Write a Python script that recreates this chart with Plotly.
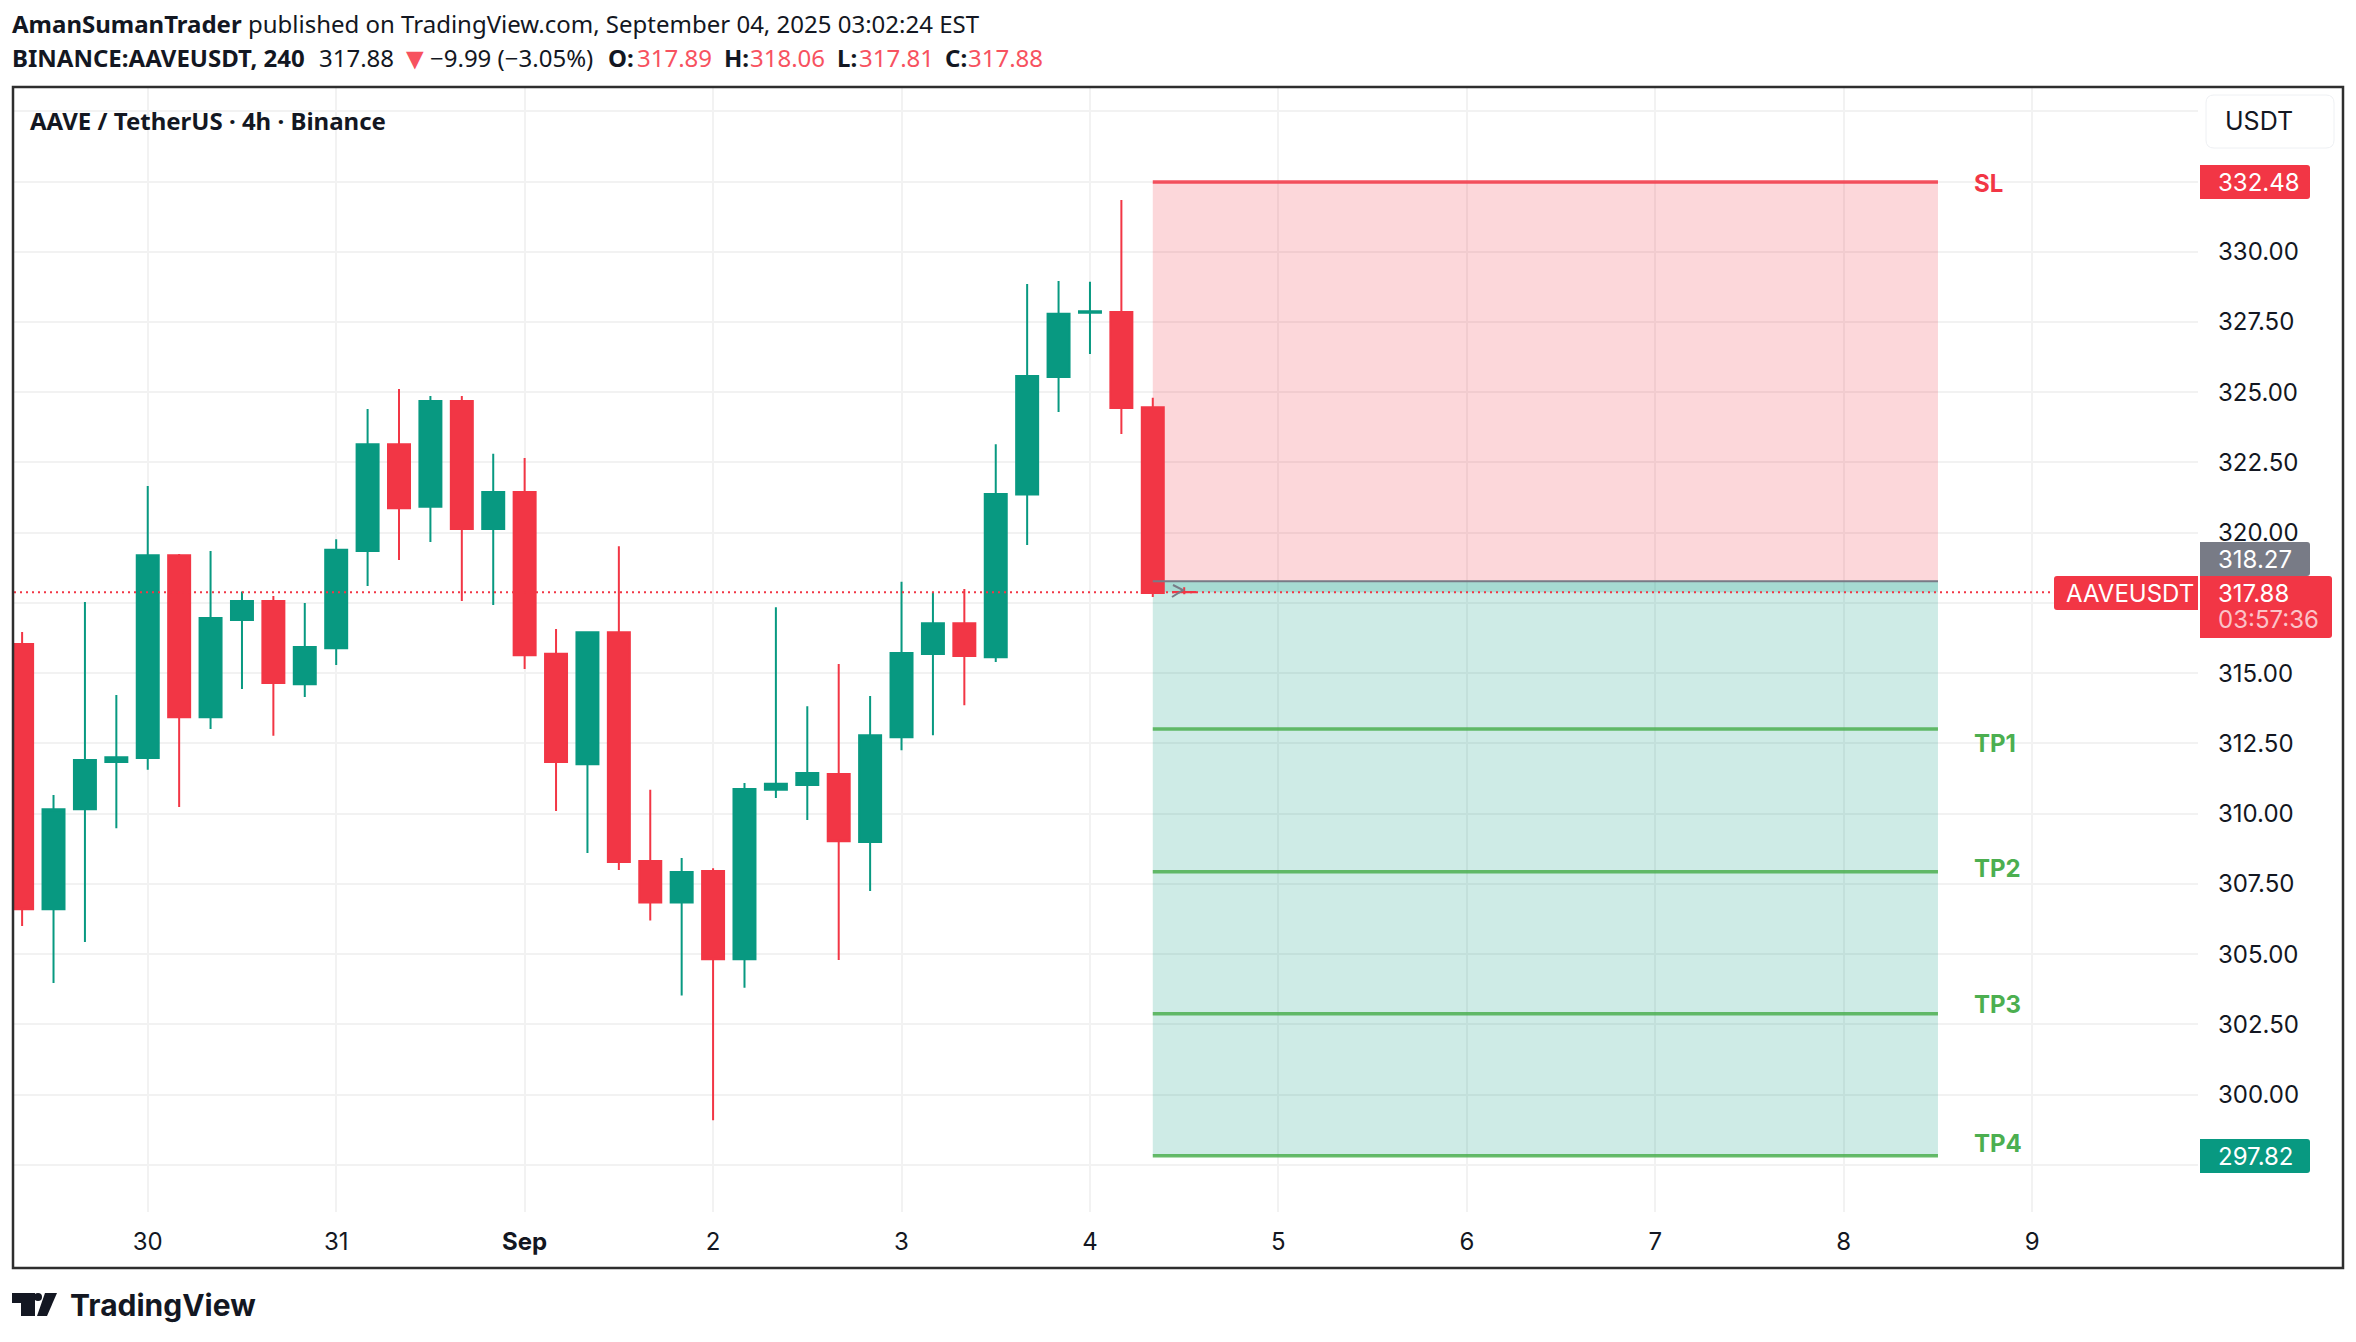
import pandas as pd
import plotly.graph_objects as go

W, H = 2356, 1342
PANE_L, PANE_R, PANE_T, PANE_B = 14, 2198, 88, 1212

GREEN = '#089981'
RED = '#F23645'
GREY = '#787B86'
TP_GREEN = '#4CAF50'
HEAD_RED = '#F7525F'
INK = '#131722'
FONT = 'Inter, sans-serif'
HEAD_FONT = 'Noto Sans, sans-serif'

# 4h candles
first_candle = '2025-08-29 08:00'
opens = [316.04, 306.60, 310.16, 311.84, 311.98, 319.20, 313.43, 316.89, 317.57, 314.61,
         315.89, 319.35, 323.15, 320.92, 324.69, 320.13, 321.45, 315.69, 311.76, 316.46,
         308.31, 306.84, 307.96, 304.82, 310.85, 311.02, 311.41, 308.99, 312.72, 315.68,
         316.78, 315.57, 321.36, 325.54, 327.83, 327.86, 324.47, 317.89]
highs = [316.47, 310.66, 317.53, 314.22, 321.66, 319.24, 319.35, 317.91, 317.75, 317.50,
         319.77, 324.40, 325.12, 324.87, 324.87, 322.81, 322.66, 316.57, 316.47, 319.52,
         310.85, 308.42, 308.06, 311.09, 317.35, 313.82, 315.33, 314.19, 318.25, 317.88,
         318.00, 323.15, 328.85, 328.96, 328.93, 331.84, 324.80, 318.06]
lows = [306.00, 303.97, 305.43, 309.48, 311.56, 310.24, 313.01, 314.44, 312.77, 314.15,
        315.29, 318.10, 319.03, 319.67, 317.57, 317.43, 315.15, 310.09, 308.60, 307.99,
        306.20, 303.53, 299.09, 303.80, 310.56, 309.77, 304.79, 307.25, 312.26, 312.79,
        313.86, 315.40, 319.56, 324.30, 326.36, 323.51, 317.71, 317.81]
closes = [306.60, 310.16, 311.91, 312.01, 319.20, 313.43, 316.96, 317.57, 314.65, 315.93,
          319.39, 323.15, 320.87, 324.69, 320.13, 321.45, 315.64, 311.84, 316.46, 308.28,
          306.84, 307.92, 304.82, 310.88, 311.06, 311.45, 309.02, 312.79, 315.72, 316.78,
          315.61, 321.38, 325.58, 327.79, 327.88, 324.44, 317.85, 317.88]

# position tool
entry_price = 318.27
stop_price = 332.48
last_price = 317.88
tp_prices = [313.01, 307.93, 302.88, 297.82]
tp_names = ['TP1', 'TP2', 'TP3', 'TP4']
tool_start = '2025-09-04 08:00'
tool_end = '2025-09-08 12:00'

# axes
day_ticks = ['2025-08-30', '2025-08-31', '2025-09-01', '2025-09-02', '2025-09-03', '2025-09-04',
             '2025-09-05', '2025-09-06', '2025-09-07', '2025-09-08', '2025-09-09']
day_labels = ['30', '31', '<b>Sep</b>', '2', '3', '4', '5', '6', '7', '8', '9']
price_ticks = [297.5, 300, 302.5, 305, 307.5, 310, 312.5, 315, 317.5, 320,
               322.5, 325, 327.5, 330, 332.5, 335]
# these sit fully behind the price labels and the button
hidden_ticks = [317.5, 332.5, 335]
x_range = ['2025-08-29 06:58', '2025-09-09 21:07']
y_range = [295.82, 335.83]


def px_x(px):
    return (px - PANE_L) / (PANE_R - PANE_L)


def px_y(py):
    return 1 - (py - PANE_T) / (PANE_B - PANE_T)


def box_path(x0, y0, x1, y1, r_left=0, r_right=0):
    # rounded box given in picture pixels, as a paper path
    pts = []
    pts.append(f'M {px_x(x0 + r_left)} {px_y(y0)}')
    pts.append(f'L {px_x(x1 - r_right)} {px_y(y0)}')
    pts.append(f'Q {px_x(x1)} {px_y(y0)} {px_x(x1)} {px_y(y0 + r_right)}')
    pts.append(f'L {px_x(x1)} {px_y(y1 - r_right)}')
    pts.append(f'Q {px_x(x1)} {px_y(y1)} {px_x(x1 - r_right)} {px_y(y1)}')
    pts.append(f'L {px_x(x0 + r_left)} {px_y(y1)}')
    pts.append(f'Q {px_x(x0)} {px_y(y1)} {px_x(x0)} {px_y(y1 - r_left)}')
    pts.append(f'L {px_x(x0)} {px_y(y0 + r_left)}')
    pts.append(f'Q {px_x(x0)} {px_y(y0)} {px_x(x0 + r_left)} {px_y(y0)} Z')
    return ' '.join(pts)


def poly_path(points):
    d = 'M ' + ' L '.join(f'{px_x(a)} {px_y(b)}' for a, b in points)
    return d


def add_text(fig, px, py, text, size=24, color=INK, anchor='left', family=FONT, weight=None):
    fig.add_annotation(
        xref='paper', yref='paper', x=px_x(px), y=px_y(py), text=text,
        showarrow=False, xanchor=anchor, yanchor='middle', borderpad=0,
        font=dict(family=family, size=size, color=color, weight=weight),
    )


def add_box(fig, x0, y0, x1, y1, color, r_left=0, r_right=3, line=None):
    fig.add_shape(
        type='path', xref='paper', yref='paper', layer='above',
        path=box_path(x0, y0, x1, y1, r_left, r_right),
        fillcolor=color, line=dict(width=1 if line else 0, color=line or color),
    )


times = pd.date_range(first_candle, periods=len(opens), freq='4h')

fig = go.Figure()

fig.add_trace(go.Candlestick(
    x=times, open=opens, high=highs, low=lows, close=closes,
    increasing=dict(line=dict(color=GREEN, width=2), fillcolor=GREEN),
    decreasing=dict(line=dict(color=RED, width=2), fillcolor=RED),
    whiskerwidth=0, showlegend=False,
))

# risk and reward areas, under the candles
fig.add_shape(type='rect', xref='x', yref='y', layer='between', x0=tool_start, x1=tool_end,
              y0=entry_price, y1=stop_price, fillcolor='rgba(242,54,69,0.2)', line_width=0)
fig.add_shape(type='rect', xref='x', yref='y', layer='between', x0=tool_start, x1=tool_end,
              y0=tp_prices[-1], y1=entry_price, fillcolor='rgba(8,153,129,0.2)', line_width=0)
fig.add_shape(type='rect', xref='x', yref='y', layer='between', x0=tool_start, x1=tool_end,
              y0=last_price, y1=entry_price, fillcolor='rgba(8,153,129,0.2)', line_width=0)

fig.add_shape(type='line', xref='x', yref='y', x0=tool_start, x1=tool_end, y0=stop_price, y1=stop_price,
              line=dict(color='rgba(242,54,69,0.85)', width=3.5))
fig.add_shape(type='line', xref='x', yref='y', x0=tool_start, x1=tool_end, y0=entry_price, y1=entry_price,
              line=dict(color=GREY, width=2))
for tp in tp_prices:
    fig.add_shape(type='line', xref='x', yref='y', x0=tool_start, x1=tool_end, y0=tp, y1=tp,
                  line=dict(color='rgba(76,175,80,0.85)', width=3.5))

# last price line
fig.add_shape(type='line', xref='paper', yref='y', x0=0, x1=1, y0=last_price, y1=last_price,
              line=dict(color=RED, width=2, dash='2px,4px'))

# small arrow of the position tool
fig.add_shape(type='path', xref='paper', yref='paper', layer='above',
              path=poly_path([(1173, 585), (1183, 590), (1172, 597)]),
              line=dict(color=GREY, width=2))

# SL / TP captions
add_text(fig, 1973, 183, 'SL', color=RED, weight=700)
for name, py in zip(tp_names, [743, 868, 1004, 1143]):
    add_text(fig, 1973, py, name, color=TP_GREEN, weight=700)

# price scale labels
add_box(fig, 2200, 165, 2310, 199, RED)
add_text(fig, 2217, 182, f'{stop_price:.2f}', color='white')
add_box(fig, 2200, 542, 2310, 576, GREY)
add_text(fig, 2217, 559, f'{entry_price:.2f}', color='white')
add_box(fig, 2054, 576, 2198, 610, RED, r_left=3, r_right=0)
add_text(fig, 2065, 593, 'AAVEUSDT', color='white')
add_box(fig, 2200, 576, 2332, 638, RED)
add_text(fig, 2217, 593, f'{last_price:.2f}', color='white')
add_text(fig, 2217, 620, '03:57:36', color='#FBC3C8')
add_box(fig, 2200, 1139, 2310, 1173, GREEN)
add_text(fig, 2217, 1156, f'{tp_prices[-1]:.2f}', color='white')

# currency button
add_box(fig, 2206, 95, 2334, 148, 'white', r_left=8, r_right=8, line='#EEF0F3')
add_text(fig, 2224, 121, 'USDT', size=25)

# outer frame
fig.add_shape(type='rect', xref='paper', yref='paper', layer='above',
              x0=px_x(13), x1=px_x(2343), y0=px_y(1268), y1=px_y(87),
              line=dict(color='#2E2E2E', width=2.5))

# header
add_text(fig, 11, 24, '<b>AmanSumanTrader</b> published on TradingView.com, September 04, 2025 03:02:24 EST',
         size=24, family=HEAD_FONT)
add_text(fig, 11, 58, '<b>BINANCE:AAVEUSDT, 240</b>', size=24, family=HEAD_FONT)
add_text(fig, 318, 58, '317.88', size=24, family=HEAD_FONT)
add_text(fig, 399, 58, '▼', size=30, color=HEAD_RED, family=HEAD_FONT)
add_text(fig, 429, 58, '−9.99 (−3.05%)', size=24, family=HEAD_FONT)
for px, name in zip([607, 723, 836, 944], ['O:', 'H:', 'L:', 'C:']):
    add_text(fig, px, 58, f'<b>{name}</b>', size=24, family=HEAD_FONT)
for px, val in zip([636, 749, 858, 967], [opens[-1], highs[-1], lows[-1], closes[-1]]):
    add_text(fig, px, 58, f'{val:.2f}', size=24, color=HEAD_RED, family=HEAD_FONT)
add_text(fig, 29, 120, '<b>AAVE / TetherUS · 4h · Binance</b>', size=24, family=HEAD_FONT)

# TradingView logo
fig.add_shape(type='path', xref='paper', yref='paper', layer='above', fillcolor=INK, line_width=0,
              path=poly_path([(12, 1293), (35, 1293), (35, 1316), (21, 1316), (21, 1303), (12, 1303)]) + ' Z')
fig.add_shape(type='circle', xref='paper', yref='paper', layer='above', fillcolor=INK, line_width=0,
              x0=px_x(34), x1=px_x(42), y0=px_y(1301), y1=px_y(1293))
fig.add_shape(type='path', xref='paper', yref='paper', layer='above', fillcolor=INK, line_width=0,
              path=poly_path([(45, 1293), (57, 1293), (47, 1316), (37, 1316)]) + ' Z')
add_text(fig, 69, 1305, 'TradingView', size=30, weight=700)

fig.update_layout(
    width=W, height=H,
    margin=dict(l=PANE_L, r=W - PANE_R, t=PANE_T, b=H - PANE_B, pad=0),
    paper_bgcolor='white',
    plot_bgcolor='white',
    font=dict(family=FONT, color=INK, size=24),
    showlegend=False,
    boxgap=0,
    boxgroupgap=0.3,
    xaxis=dict(
        type='date', range=x_range, rangeslider=dict(visible=False),
        tickmode='array', tickvals=day_ticks, ticktext=day_labels, tickangle=0,
        showgrid=True, gridcolor='#F2F2F2', gridwidth=2, zeroline=False, showline=False,
        ticks='', ticklabelstandoff=13, tickfont=dict(family=FONT, size=24, color=INK),
    ),
    yaxis=dict(
        side='right', range=y_range, tickmode='array', tickvals=price_ticks,
        ticktext=['' if p in hidden_ticks else f'{p:.2f}' for p in price_ticks],
        showgrid=True, gridcolor='#F2F2F2', gridwidth=2, zeroline=False, showline=False,
        ticks='', ticklabelstandoff=19, tickfont=dict(family=FONT, size=24, color=INK),
    ),
)

# page margin off, so the figure starts at the window corner
fig.write_html("out.html", config={'displayModeBar': False},
               post_script="document.body.style.margin='0';")
